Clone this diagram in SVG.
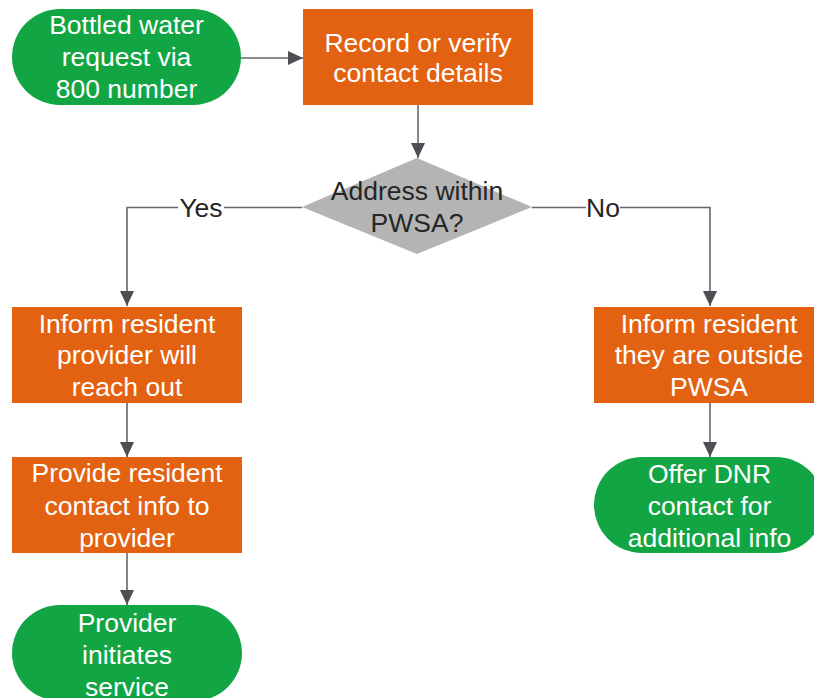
<svg xmlns="http://www.w3.org/2000/svg" width="814" height="698" viewBox="0 0 814 698">
<defs>
<style>
.term{fill:#12A544;}
.proc{fill:#E36211;}
.dec{fill:#B4B4B4;}
.t{font-family:"Liberation Sans",Arial,sans-serif;font-size:26.5px;text-anchor:middle;fill:#FFFFFF;}
.dk{fill:#262626;}
.ln{fill:none;stroke:#666666;stroke-width:1.6;}
</style>
<marker id="ah" markerWidth="15" markerHeight="14" refX="15" refY="7" orient="auto" markerUnits="userSpaceOnUse">
<path d="M0,0 L15,7 L0,14 Z" fill="#4D4F55"/>
</marker>
</defs>
<rect width="814" height="698" fill="#FFFFFF"/>
<g id="connectors">
<path class="ln" d="M241,58 L303,58" marker-end="url(#ah)"/>
<path class="ln" d="M418,105 L418,158" marker-end="url(#ah)"/>
<path class="ln" d="M302,207.5 L127,207.5 L127,306" marker-end="url(#ah)"/>
<path class="ln" d="M532,207.5 L710,207.5 L710,306" marker-end="url(#ah)"/>
<path class="ln" d="M127,403 L127,457" marker-end="url(#ah)"/>
<path class="ln" d="M127,553 L127,605" marker-end="url(#ah)"/>
<path class="ln" d="M710,403 L710,457" marker-end="url(#ah)"/>
<rect x="178" y="194" width="46" height="28" fill="#FFFFFF"/>
<rect x="586" y="194" width="34" height="28" fill="#FFFFFF"/>
<text class="t dk" x="201" y="217">Yes</text>
<text class="t dk" x="603" y="217">No</text>
</g>
<g id="start">
<rect class="term" x="12" y="9" width="229" height="96" rx="48" ry="48"/>
<text class="t" x="126.5" y="33.5">Bottled water</text>
<text class="t" x="126.5" y="66">request via</text>
<text class="t" x="126.5" y="98">800 number</text>
</g>
<g id="record">
<rect class="proc" x="303" y="9" width="230" height="96"/>
<text class="t" x="418" y="51.5">Record or verify</text>
<text class="t" x="418" y="82">contact details</text>
</g>
<g id="decision">
<polygon class="dec" points="417,158 532,207 417,254 302,207"/>
<text class="t dk" x="417" y="200">Address within</text>
<text class="t dk" x="417" y="232">PWSA?</text>
</g>
<g id="inform-yes">
<rect class="proc" x="12" y="307" width="230" height="96"/>
<text class="t" x="127" y="332.5">Inform resident</text>
<text class="t" x="127" y="364">provider will</text>
<text class="t" x="127" y="396">reach out</text>
</g>
<g id="provide">
<rect class="proc" x="12" y="457" width="230" height="96"/>
<text class="t" x="127" y="482" textLength="191">Provide resident</text>
<text class="t" x="127" y="514.5">contact info to</text>
<text class="t" x="127" y="547">provider</text>
</g>
<g id="initiates">
<rect class="term" x="12" y="605" width="230" height="96" rx="48" ry="48"/>
<text class="t" x="127" y="631.5">Provider</text>
<text class="t" x="127" y="663.5">initiates</text>
<text class="t" x="127" y="695.5">service</text>
</g>
<g id="inform-no">
<rect class="proc" x="594" y="307" width="230" height="96"/>
<text class="t" x="709" y="332.5">Inform resident</text>
<text class="t" x="709" y="364">they are outside</text>
<text class="t" x="709" y="396">PWSA</text>
</g>
<g id="dnr">
<rect class="term" x="594" y="457" width="230" height="96" rx="48" ry="48"/>
<text class="t" x="709.5" y="482.5">Offer DNR</text>
<text class="t" x="709.5" y="515">contact for</text>
<text class="t" x="709.5" y="547">additional info</text>
</g>
</svg>
